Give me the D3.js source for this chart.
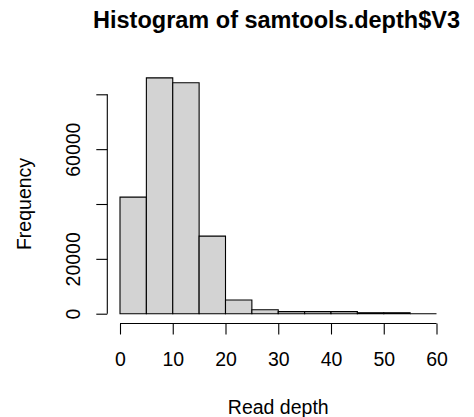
<!DOCTYPE html>
<html>
<head>
<meta charset="utf-8">
<script src="https://cdn.jsdelivr.net/npm/d3@7"></script>
<style>
  body { margin: 0; background: #fff; }
  svg text { font-family: "Liberation Sans", Arial, sans-serif; fill: #000; }
</style>
</head>
<body>
<div id="chart"></div>
<script>
// histogram bins of samtools.depth$V3 (read depth)
const binEdges = [0, 5, 10, 15, 20, 25, 30, 35, 40, 45, 50, 55, 60];
const counts = [42500, 86000, 84200, 28300, 5000, 1450, 750, 750, 750, 350, 350, 0];
const xTicks = [0, 10, 20, 30, 40, 50, 60];
const yTicks = [0, 20000, 40000, 60000, 80000];
const yTickLabels = ['0', '20000', '', '60000', ''];

const width = 474, height = 417;

const svg = d3.select('#chart')
  .append('svg')
    .attr('width', width)
    .attr('height', height);

const x = d3.scaleLinear().domain([0, 60]).range([120, 436.5]);
const y = d3.scaleLinear().domain([0, 80000]).range([313.7, 94.3]);

const bins = counts.map((c, i) => ({ x0: binEdges[i], x1: binEdges[i + 1], n: c }));

// drawn as closed paths so that empty bins still show their bottom edge
svg.selectAll('.bar')
    .data(bins)
  .enter().append('path')
    .attr('class', 'bar')
    .attr('d', d => `M${x(d.x0)},${y(0)}V${y(d.n)}H${x(d.x1)}V${y(0)}Z`)
    .style('fill', '#d3d3d3')
    .style('stroke', '#000')
    .style('stroke-width', 1.1);

// x axis (R style: line spans first to last tick)
const xAxis = svg.append('g')
    .attr('transform', 'translate(0, 323.5)')
    .call(d3.axisBottom(x).tickValues(xTicks).tickSize(11).tickPadding(18).tickSizeOuter(0));
xAxis.select('.domain').remove();
xAxis.append('line')
    .attr('x1', x(0)).attr('x2', x(60))
    .attr('stroke', '#000').attr('stroke-width', 1.1);
xAxis.selectAll('.tick line').attr('stroke-width', 1.1);
xAxis.selectAll('text').style('font-size', '19.5px').attr('font-family', null);

// y axis, labels rotated
const yAxis = svg.append('g')
    .attr('transform', 'translate(107.3, 0)')
    .call(d3.axisLeft(y).tickValues(yTicks).tickSize(11).tickFormat((d, i) => yTickLabels[i]).tickSizeOuter(0));
yAxis.select('.domain').remove();
yAxis.append('line')
    .attr('y1', y(0)).attr('y2', y(80000))
    .attr('stroke', '#000').attr('stroke-width', 1.1);
yAxis.selectAll('.tick line').attr('stroke-width', 1.1);
yAxis.selectAll('text')
    .attr('font-family', null)
    .style('font-size', '19.5px')
    .attr('x', null).attr('dy', null)
    .attr('text-anchor', 'middle')
    .attr('transform', 'translate(-27, 0) rotate(-90)');

svg.append('text')
    .attr('x', 276.5).attr('y', 28)
    .attr('text-anchor', 'middle')
    .style('font-size', '23.5px')
    .style('font-weight', 'bold')
    .text('Histogram of samtools.depth$V3');

svg.append('text')
    .attr('x', x(30)).attr('y', 414)
    .attr('text-anchor', 'middle')
    .style('font-size', '19.5px')
    .text('Read depth');

svg.append('text')
    .attr('transform', `translate(31, ${y(40000)}) rotate(-90)`)
    .attr('text-anchor', 'middle')
    .style('font-size', '19.5px')
    .text('Frequency');
</script>
</body>
</html>
